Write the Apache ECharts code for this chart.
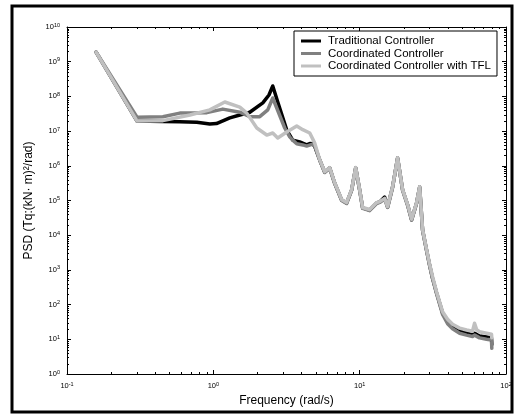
<!DOCTYPE html>
<html>
<head>
<meta charset="utf-8">
<script src="https://cdn.jsdelivr.net/npm/echarts@6/dist/echarts.min.js"></script>
<style>
  html, body { margin: 0; padding: 0; background: #fff; }
  #chart { width: 520px; height: 417px; }
</style>
</head>
<body>
<div id="chart"></div>
<script>
// --- data (frequency in rad/s, PSD) ---
const seriesNames = ['Traditional Controller', 'Coordinated Controller', 'Coordinated Controller with TFL'];
const seriesColors = ['#000000', '#808080', '#c0c0c0'];

const freqTraditional = [0.158, 0.301, 0.452, 0.59, 0.771, 0.946, 1.05, 1.296, 1.517, 1.775, 2.178, 2.4, 2.547,
  2.756, 3.175, 3.489, 3.891, 4.345, 4.56, 4.775, 4.932, 5.333, 5.768, 6.237, 6.745, 7.534, 8.147, 8.81, 9.394,
  10.0, 10.48, 11.7, 13.06, 13.7, 14.82, 15.52, 16.79, 18.16, 19.66, 21.28, 22.65, 24.49, 25.7, 26.92, 28.65,
  30.04, 31.47, 33.56, 36.88, 39.89, 43.13, 48.18, 53.75, 59.06, 60.98, 65.93, 73.6, 79.6, 80.0];
const psdTraditional = [1.9e9, 1.95e7, 1.9e7, 1.85e7, 1.8e7, 1.6e7, 1.65e7, 2.4e7, 2.9e7, 3.5e7, 6.5e7, 1.1e8, 2.0e8,
  6.9e7, 1.07e7, 5.5e6, 4.9e6, 4.0e6, 4.4e6, 4.3e6, 3.6e6, 1.47e6, 6.6e5, 8.7e5, 3.2e5, 1.03e5, 8.5e4, 2.0e5, 8.7e5,
  2.0e5, 6.1e4, 5.3e4, 8.5e4, 9.1e4, 1.25e5, 6.5e4, 2.45e5, 1.67e6, 2.0e5, 7.4e4, 2.8e4, 8.5e4, 2.45e5, 1.4e4, 3.7e3,
  1.4e3, 580, 215, 57, 31.5, 22.6, 17.4, 15.2, 13.3, 15, 12.4, 11.7, 10.9, 7];

const freqCoordinated = [0.158, 0.301, 0.452, 0.59, 0.904, 1.161, 1.517, 1.775, 2.076, 2.355, 2.547, 3.076, 3.327,
  3.489, 3.715, 4.083, 4.345, 4.775, 4.932, 5.333, 5.768, 6.237, 6.745, 7.534, 8.147, 8.81, 9.394, 10.0, 10.48,
  11.7, 13.06, 13.7, 14.82, 15.52, 16.79, 18.16, 19.66, 21.28, 22.65, 24.49, 25.7, 26.92, 28.65, 30.04, 31.47,
  33.56, 36.88, 39.89, 43.13, 48.18, 53.75, 59.06, 60.98, 65.93, 73.6, 79.6, 80.0];
const psdCoordinated = [1.9e9, 2.5e7, 2.6e7, 3.3e7, 3.4e7, 4.3e7, 3.5e7, 2.6e7, 2.6e7, 4.1e7, 9.0e7, 1.23e7, 6.8e6,
  5.5e6, 4.3e6, 4.0e6, 3.7e6, 4.2e6, 3.7e6, 1.45e6, 6.4e5, 8.5e5, 3.1e5, 1.0e5, 8.2e4, 1.95e5, 8.6e5, 1.95e5, 5.9e4,
  5.1e4, 8.2e4, 8.8e4, 1.1e5, 6.3e4, 2.4e5, 1.65e6, 1.95e5, 7.1e4, 2.7e4, 8.3e4, 2.4e5, 1.35e4, 3.6e3, 1.35e3, 560,
  205, 52, 28, 20, 15, 13.2, 12, 13.2, 11, 10, 9.5, 5.5];

const freqTFL = [0.158, 0.301, 0.452, 0.692, 0.946, 1.198, 1.517, 1.693, 1.982, 2.317, 2.547, 2.756, 3.175, 3.715,
  4.083, 4.56, 4.932, 5.333, 5.768, 6.237, 6.745, 7.534, 8.147, 8.81, 9.394, 10.0, 10.48, 11.7, 13.06, 13.7, 14.82,
  15.52, 16.79, 18.16, 19.66, 21.28, 22.65, 24.49, 25.7, 26.92, 28.65, 30.04, 31.47, 33.56, 36.88, 39.89, 43.13,
  48.18, 53.75, 59.06, 60.98, 63.0, 65.93, 73.6, 79.6, 80.0];
const psdTFL = [1.9e9, 1.95e7, 2.0e7, 2.9e7, 4.1e7, 6.9e7, 4.9e7, 3.3e7, 1.23e7, 7.7e6, 8.8e6, 6.3e6, 9.4e6, 1.4e7,
  1.1e7, 8.8e6, 4.5e6, 1.5e6, 6.8e5, 8.9e5, 3.3e5, 1.06e5, 8.8e4, 2.05e5, 8.9e5, 2.05e5, 6.3e4, 5.5e4, 8.7e4, 9.3e4,
  1.15e5, 6.7e4, 2.5e5, 1.7e6, 2.05e5, 7.6e4, 2.9e4, 8.7e4, 2.5e5, 1.45e4, 3.9e3, 1.5e3, 650, 230, 62, 38, 27,
  21, 18.5, 17, 29, 19, 16.5, 15, 14, 11];

const xLog = { min: 0.1, max: 100 };
const yLog = { min: 1, max: 1e10 };

// --- chart ---
const FONT = '"Liberation Sans", Arial, Helvetica, sans-serif';
const chart = echarts.init(document.getElementById('chart'));

// 2..9 x 10^d minor tick values for a log axis
function minorTicks(lo, hi) {
  const out = [];
  for (let d = lo; d < hi; d++) for (let k = 2; k <= 9; k++) out.push(+(k * Math.pow(10, d)).toPrecision(3));
  return out;
}
const minorX = minorTicks(-1, 2);
const minorY = minorTicks(0, 10);

const powRich = {
  b: { fontSize: 7.5, fontFamily: FONT, color: '#000', lineHeight: 10 },
  e: { fontSize: 5.5, fontFamily: FONT, color: '#000', lineHeight: 3, verticalAlign: 'top' }
};
const powFormatter = v => '{b|10}{e|' + Math.round(Math.log10(v)) + '}';

const lineBlack = { show: true, onZero: false, lineStyle: { color: '#000', width: 1 } };
const majorTick = { inside: true, length: 4, lineStyle: { color: '#000' } };

const xAxes = [
  {
    type: 'log', position: 'bottom', min: xLog.min, max: xLog.max, interval: 1,
    axisLine: lineBlack, axisTick: majorTick,
    axisLabel: { margin: 7, formatter: powFormatter, rich: powRich },
    splitLine: { show: false },
    name: 'Frequency (rad/s)', nameLocation: 'middle', nameGap: 18,
    nameTextStyle: { fontSize: 12, fontFamily: FONT, color: '#000' }
  },
  {
    type: 'log', position: 'top', min: xLog.min, max: xLog.max, interval: 1,
    axisLine: lineBlack, axisTick: majorTick,
    axisLabel: { show: false }, splitLine: { show: false }
  }
];

const yAxes = [
  {
    type: 'log', position: 'left', min: yLog.min, max: yLog.max, interval: 1,
    axisLine: lineBlack, axisTick: majorTick,
    axisLabel: { margin: 7, formatter: powFormatter, rich: powRich },
    splitLine: { show: false },
    name: 'PSD (Tq:(kN· m)²/rad)', nameLocation: 'middle', nameGap: 20,
    nameTextStyle: { fontSize: 12, fontFamily: FONT, color: '#000' }
  },
  {
    type: 'log', position: 'right', min: yLog.min, max: yLog.max, interval: 1,
    axisLine: lineBlack, axisTick: majorTick,
    axisLabel: { show: false }, splitLine: { show: false }
  }
];

const crisp = v => Math.round(v) + 0.5;
const tickStyle = { stroke: '#000', lineWidth: 1 };

// minor ticks on all four sides, placed with the log axes' own scales
const minorTickSeries = [
  {
    type: 'custom', silent: true, z: 10, xAxisIndex: 0, yAxisIndex: 0,
    data: minorX.map(v => [v, yLog.min]),
    renderItem: (params, api) => {
      const b = api.coord([api.value(0), yLog.min]);
      const t = api.coord([api.value(0), yLog.max]);
      const x = crisp(b[0]);
      return { type: 'group', children: [
        { type: 'line', shape: { x1: x, y1: b[1], x2: x, y2: b[1] - 2 }, style: tickStyle },
        { type: 'line', shape: { x1: x, y1: t[1], x2: x, y2: t[1] + 2 }, style: tickStyle }
      ] };
    }
  },
  {
    type: 'custom', silent: true, z: 10, xAxisIndex: 0, yAxisIndex: 0,
    data: minorY.map(v => [xLog.min, v]),
    renderItem: (params, api) => {
      const l = api.coord([xLog.min, api.value(1)]);
      const r = api.coord([xLog.max, api.value(1)]);
      const y = crisp(l[1]);
      return { type: 'group', children: [
        { type: 'line', shape: { x1: l[0], y1: y, x2: l[0] + 2, y2: y }, style: tickStyle },
        { type: 'line', shape: { x1: r[0], y1: y, x2: r[0] - 2, y2: y }, style: tickStyle }
      ] };
    }
  }
];

const pairs = (f, p) => f.map((x, i) => [x, p[i]]);
const seriesData = [
  pairs(freqTraditional, psdTraditional),
  pairs(freqCoordinated, psdCoordinated),
  pairs(freqTFL, psdTFL)
];

chart.setOption({
  animation: false,
  backgroundColor: '#fff',
  textStyle: { fontFamily: FONT },
  graphic: [{
    type: 'rect', silent: true, z: 100,
    shape: { x: 12, y: 6, width: 500, height: 406 },
    style: { fill: 'none', stroke: '#000', lineWidth: 3 }
  }],
  grid: { left: 67, right: 14, top: 27, bottom: 43, containLabel: false, outerBoundsMode: 'none' },
  legend: {
    orient: 'vertical', left: 294, top: 31,
    backgroundColor: '#fff', borderColor: '#000', borderWidth: 1,
    padding: [4, 6, 4, 7], itemGap: 0.5,
    itemWidth: 20, itemHeight: 3, icon: 'rect',
    textStyle: { fontSize: 11.5, fontFamily: FONT, color: '#000', lineHeight: 12, padding: [0, 0, 0, 2] },
    data: seriesNames
  },
  xAxis: xAxes,
  yAxis: yAxes,
  series: seriesData.map((d, i) => ({
    name: seriesNames[i],
    type: 'line',
    data: d,
    symbol: 'none',
    color: seriesColors[i],
    lineStyle: { color: seriesColors[i], width: 3.5, join: 'round', cap: 'round' },
    z: 2 + i
  })).concat(minorTickSeries)
});
</script>
</body>
</html>
